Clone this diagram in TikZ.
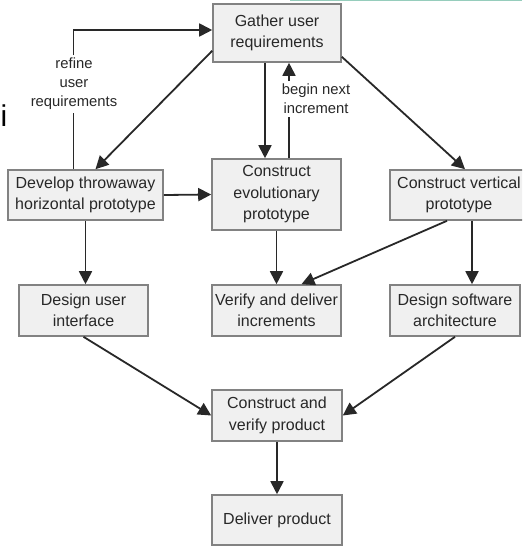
\documentclass[tikz,border=0pt]{standalone}
\usepackage{fontspec}
\setmainfont{Liberation Sans}
\usetikzlibrary{arrows.meta}
\definecolor{boxfill}{RGB}{240,240,240}
\definecolor{boxline}{RGB}{130,130,130}
\definecolor{ink}{RGB}{40,40,40}
\definecolor{edgegreen}{RGB}{150,205,188}

\begin{document}
\begin{tikzpicture}[x=1pt,y=-1pt,->,>={Triangle[length=13pt,width=13pt]},
                    line width=1.8pt,draw=ink,text=ink,
                    every text node part/.style={align=center}]
  \tikzstyle{box}=[rectangle,fill=boxfill,draw=boxline,line width=1.6pt,
                   minimum width=129pt,minimum height=51pt,inner sep=2pt,
                   font=\fontsize{16}{21.5}\selectfont]
  \tikzstyle{lbl}=[fill=white,inner sep=2pt,font=\fontsize{14.8}{19}\selectfont]

  \useasboundingbox (0,0) rectangle (522,546);
  \clip (0,0) rectangle (522,546);
  \fill[white] (0,0) rectangle (522,546);

  \node[box,minimum width=128pt,minimum height=58pt] (gather) at (277,33) {Gather user\\requirements};
  \node[box,minimum width=155pt,minimum height=50pt] (develop) at (85.5,195) {Develop throwaway\\horizontal prototype};
  \node[box,minimum height=71pt] (evol) at (276.5,194.5) {Construct\\evolutionary\\prototype};
  \node[box,minimum width=138pt,minimum height=50pt] (vertical) at (459,195) {Construct vertical\\prototype};
  \node[box] (ui) at (83.5,310.5) {Design user\\interface};
  \node[box] (verify) at (276.5,310.5) {Verify and deliver\\increments};
  \node[box,minimum width=130pt] (sw) at (455,310.5) {Design software\\architecture};
  \node[box,minimum width=130pt] (construct) at (277,415.5) {Construct and\\verify product};
  \node[box,minimum width=130pt,minimum height=50pt] (deliver) at (277,520) {Deliver product};

  \node[lbl] (refine) at (74,84) {refine\\user\\requirements};
  \node[lbl] (nextinc) at (316,99) {begin next\\increment};
  \node[text=black,inner sep=0pt,font=\fontsize{30}{30}\selectfont] (stray) at (4,116) {i};

  \draw ([yshift=12pt]gather.south west) -- ([xshift=10pt]develop.north);
  \draw[-] ([xshift=-12pt]develop.north) -- ([xshift=-12pt]develop.north |- refine.south);
  \draw ([xshift=-12pt]develop.north |- refine.north) |- ([yshift=3pt]gather.west);
  \draw ([xshift=-12pt]gather.south) -- ([xshift=-11.5pt]evol.north);
  \draw[-] ([xshift=12.5pt]evol.north) -- ([xshift=12.5pt]evol.north |- nextinc.south);
  \draw ([xshift=12.5pt]evol.north |- nextinc.north) -- ([xshift=12pt]gather.south);
  \draw ([yshift=6pt]gather.south east) -- ([xshift=6pt]vertical.north);
  \draw (develop.east) -- (evol.west);
  \draw (develop.south) -- (develop.south |- ui.north);
  \draw (evol.south) -- (verify.north);
  \draw ([xshift=-12pt]vertical.south) -- ([xshift=25pt]verify.north);
  \draw ([xshift=13pt]vertical.south) -- ([xshift=13pt]vertical.south |- sw.north);
  \draw (ui.south) -- (construct.west);
  \draw (sw.south) -- (construct.east);
  \draw (construct.south) -- (deliver.north);

  \draw[-,edgegreen,line width=1.5pt] (290,0.7) -- (522,0.7);
\end{tikzpicture}
\end{document}
